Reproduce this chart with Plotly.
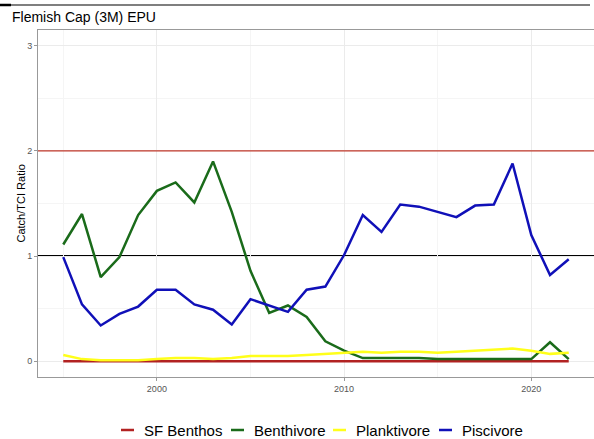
import plotly.graph_objects as go

years = list(range(1995, 2023))
sf_benthos = [0.0] * 28
benthivore = [1.11, 1.40, 0.80, 0.99, 1.39, 1.62, 1.70, 1.51, 1.90, 1.42,
              0.86, 0.46, 0.53, 0.42, 0.19, 0.10, 0.03, 0.03, 0.03, 0.03,
              0.02, 0.02, 0.02, 0.02, 0.02, 0.02, 0.18, 0.02]
planktivore = [0.06, 0.02, 0.01, 0.01, 0.01, 0.02, 0.03, 0.03, 0.02, 0.03,
               0.05, 0.05, 0.05, 0.06, 0.07, 0.08, 0.09, 0.08, 0.09, 0.09,
               0.08, 0.09, 0.10, 0.11, 0.12, 0.10, 0.07, 0.08]
piscivore = [0.99, 0.54, 0.34, 0.45, 0.52, 0.68, 0.68, 0.54, 0.49, 0.35,
             0.59, 0.53, 0.47, 0.68, 0.71, 1.01, 1.39, 1.23, 1.49, 1.47,
             1.42, 1.37, 1.48, 1.49, 1.88, 1.20, 0.82, 0.97]

series_names = ["SF Benthos", "Benthivore", "Planktivore", "Piscivore"]
series_values = [sf_benthos, benthivore, planktivore, piscivore]
series_colors = ["#B22222", "#1A6B1A", "#FFFF1A", "#1010B8"]

y_ticks = [0, 1, 2, 3]
x_ticks = [2000, 2010, 2020]

W, H = 594, 439
L, R, T, B = 38, 0, 30, 62
PW, PH = W - L - R, H - T - B


def px_x(p):
    return (p - L) / PW


def px_y(p):
    return (H - B - p) / PH


fig = go.Figure()

# reference lines
fig.add_hline(y=2, line=dict(color="#C0392B", width=1.2), layer="above")
fig.add_hline(y=1, line=dict(color="black", width=2), layer="below")

for name, vals, col in zip(series_names, series_values, series_colors):
    fig.add_trace(go.Scatter(x=years, y=vals, mode="lines", name=name,
                             line=dict(color=col, width=2.5), showlegend=False))

# top crop line artifact
fig.add_shape(type="line", xref="paper", yref="paper", x0=px_x(0), x1=px_x(590),
              y0=px_y(5), y1=px_y(5), line=dict(color="black", width=1.2))
fig.add_shape(type="line", xref="paper", yref="paper", x0=px_x(0), x1=px_x(11),
              y0=px_y(5), y1=px_y(5), line=dict(color="black", width=2.5))

font_family = "Liberation Sans, Arial, sans-serif"

# manual legend (compact symbols like ggplot)
legend_sym_x = [121, 231, 333, 439]
legend_y = 430
annotations = []
for name, col, sx in zip(series_names, series_colors, legend_sym_x):
    fig.add_shape(type="line", xref="paper", yref="paper",
                  x0=px_x(sx), x1=px_x(sx + 13), y0=px_y(legend_y), y1=px_y(legend_y),
                  line=dict(color=col, width=2.5))
    annotations.append(dict(text=name, xref="paper", yref="paper",
                            x=px_x(sx + 21), y=px_y(legend_y),
                            xanchor="left", yanchor="middle", showarrow=False,
                            font=dict(size=15, color="black", family=font_family)))

# y-axis title
annotations.append(dict(text="Catch/TCI Ratio", xref="paper", yref="paper",
                        x=px_x(20), y=0.5, xanchor="center", yanchor="middle",
                        textangle=-90, showarrow=False,
                        font=dict(size=11, color="black", family=font_family)))

fig.update_layout(
    width=W, height=H,
    margin=dict(l=L, r=R, t=T, b=B, autoexpand=False),
    paper_bgcolor="white", plot_bgcolor="white",
    font=dict(family=font_family, color="black"),
    title=dict(text="Flemish Cap (3M) EPU", x=12/W, xanchor="left",
               y=1 - 17/H, yanchor="middle",
               font=dict(size=14, color="black", family=font_family)),
    showlegend=False,
    annotations=annotations,
    xaxis=dict(range=[1993.65, 2023.35], tickvals=x_ticks,
               ticktext=[str(v) for v in x_ticks],
               tickfont=dict(size=9, color="#555555"),
               ticks="outside", ticklen=3, tickcolor="#999999",
               showgrid=True, gridcolor="#EBEBEB", gridwidth=1,
               minor=dict(dtick=5, tick0=1995, showgrid=True, gridcolor="#F5F5F5", gridwidth=1),
               showline=True, linecolor="#999999", linewidth=1, mirror=True,
               zeroline=False, automargin=False),
    yaxis=dict(range=[-0.15, 3.15], tickvals=y_ticks,
               ticktext=[str(v) for v in y_ticks],
               tickfont=dict(size=9, color="#555555"),
               ticks="outside", ticklen=3, tickcolor="#999999",
               showgrid=True, gridcolor="#EBEBEB", gridwidth=1,
               minor=dict(dtick=0.5, tick0=0, showgrid=True, gridcolor="#F5F5F5", gridwidth=1),
               showline=True, linecolor="#999999", linewidth=1, mirror=True,
               zeroline=False, automargin=False),
)

fig.write_html("out.html", config={"displayModeBar": False},
               post_script="document.body.style.margin='0';document.body.style.padding='0';")
